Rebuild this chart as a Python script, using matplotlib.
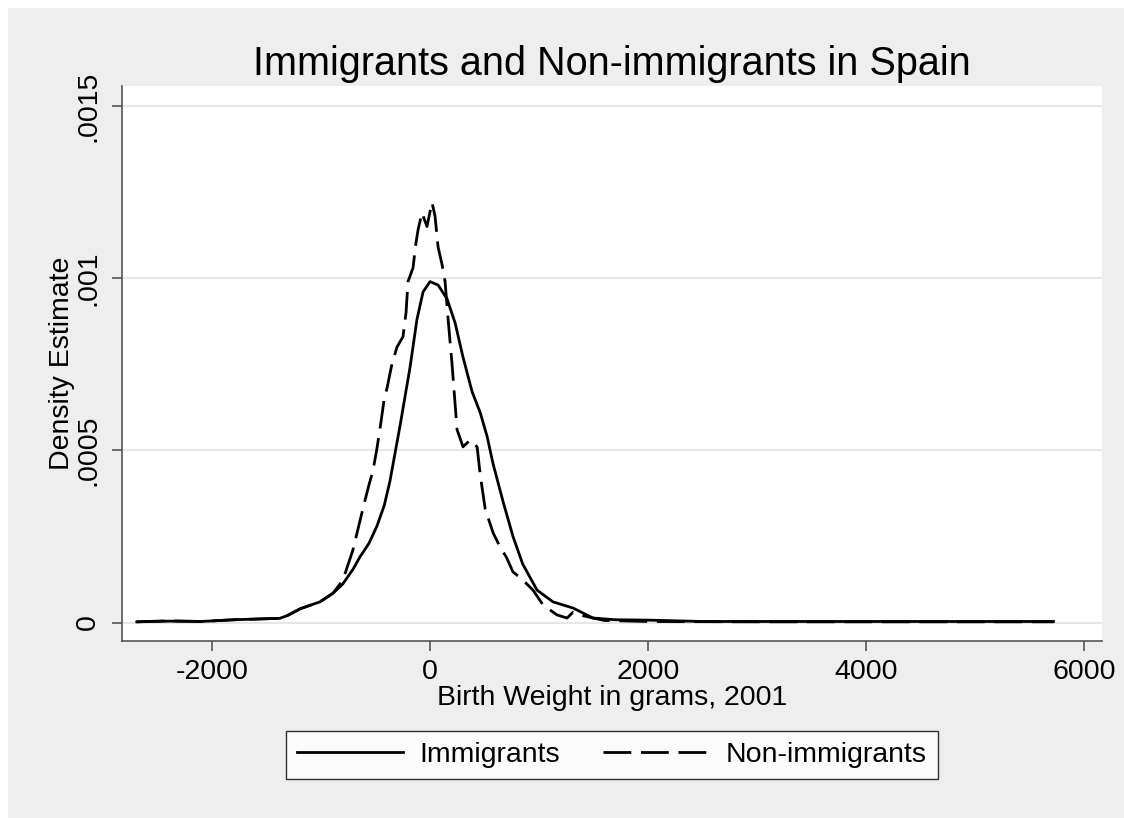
import matplotlib.pyplot as plt
from matplotlib.patches import Rectangle

plt.rcParams['font.family'] = ['Liberation Sans', 'DejaVu Sans']
plt.rcParams['axes.unicode_minus'] = False

# Data
immig_x = [-2690, -2400, -2100, -1800, -1500, -1380, -1310, -1190, -1010, -890,
           -800, -706, -644, -560, -487, -420, -368, -276, -184, -120, -64, 0,
           74, 156, 230, 303, 386, 460, 524, 579, 671, 761, 850, 982, 1128,
           1312, 1495, 1700, 1991, 2500, 3000, 4000, 5000, 5720]
immig_y = [0.000002, 0.000004, 0.000003, 0.000008, 0.000011, 0.000012, 0.00002,
           0.00004, 0.00006, 0.000085, 0.000112, 0.000155, 0.00019, 0.00023,
           0.00028, 0.00034, 0.00041, 0.00057, 0.00074, 0.00088, 0.00096,
           0.00099, 0.00098, 0.00094, 0.00087, 0.00077, 0.00067, 0.00061,
           0.00054, 0.00046, 0.00035, 0.00025, 0.00017, 0.000094, 0.00006,
           0.000042, 0.000013, 0.000008, 0.000007, 0.000003, 0.000003,
           0.000003, 0.000003, 0.000003]

nonimmig_x = [-2690, -2400, -2100, -1800, -1500, -1380, -1310, -1190, -1010,
              -890, -800, -708, -616, -560, -524, -490, -460, -420, -395, -350,
              -303, -248, -220, -202, -156, -130, -110, -74, -28, 18, 46, 74,
              110, 138, 166, 202, 248, 303, 368, 432, 460, 506, 579, 642, 700,
              761, 853, 945, 1037, 1165, 1257, 1312, 1400, 1495, 1600, 2000,
              3000, 4000, 5000, 5720]
nonimmig_y = [0.000002, 0.000005, 0.000003, 0.000008, 0.000011, 0.000012,
              0.00002, 0.00004, 0.00006, 0.000085, 0.000123, 0.00021, 0.00033,
              0.0004, 0.00044, 0.0005, 0.00056, 0.00065, 0.00068, 0.00075,
              0.0008, 0.00083, 0.0009, 0.00099, 0.00103, 0.0011, 0.00114,
              0.00119, 0.00115, 0.00122, 0.00118, 0.00109, 0.00104, 0.00099,
              0.00088, 0.00075, 0.00056, 0.00051, 0.00053, 0.00051, 0.00043,
              0.00033, 0.00026, 0.00022, 0.00019, 0.000147, 0.000123, 0.000094,
              0.000051, 0.000022, 0.000013, 0.00003, 0.00002, 0.000013,
              0.000006, 0.000003, 0.000002, 0.000002, 0.000002, 0.000002]

x_ticks = [-2000, 0, 2000, 4000, 6000]
y_ticks = [0, 0.0005, 0.001, 0.0015]
y_tick_labels = ['0', '.0005', '.001', '.0015']

W, H = 1124, 818
fig = plt.figure(figsize=(W / 100, H / 100), dpi=100)
# Stata-like light gray graph region, thin white strip on top and left
fig.patch.set_facecolor('#eeeeee')
fig.patches.append(Rectangle((0, 1 - 8 / H), 1, 8 / H, transform=fig.transFigure,
                             facecolor='white', edgecolor='none', zorder=-10))
fig.patches.append(Rectangle((0, 0), 8 / W, 1, transform=fig.transFigure,
                             facecolor='white', edgecolor='none', zorder=-10))

ax = fig.add_axes([122 / W, (H - 641) / H, (1102 - 122) / W, (641 - 86) / H])
ax.set_facecolor('white')

ax.plot(immig_x, immig_y, color='black', lw=2.0, label='Immigrants')
ax.plot(nonimmig_x, nonimmig_y, color='black', lw=2.0, dashes=(10, 3.5),
        label='Non-immigrants')

ax.set_xlim(-2826, 6165)
ax.set_ylim(-0.0000537, 0.001558)
ax.set_xticks(x_ticks)
ax.set_yticks(y_ticks)
ax.set_yticklabels(y_tick_labels, rotation=90, va='center')
ax.yaxis.grid(True, color='#e6e6e6', lw=1.6)
ax.set_axisbelow(True)

for s in ['top', 'right']:
    ax.spines[s].set_visible(False)
for s in ['left', 'bottom']:
    ax.spines[s].set_color('#555555')
    ax.spines[s].set_linewidth(1.2)

ax.tick_params(axis='both', labelsize=20.5, length=7, width=1.2, color='#555555',
               labelcolor='black')
ax.tick_params(axis='x', pad=6)
ax.tick_params(axis='y', pad=8)

ax.set_title('Immigrants and Non-immigrants in Spain', fontsize=28.5, pad=8)
ax.set_xlabel('Birth Weight in grams, 2001', fontsize=20.5, labelpad=0)
ax.set_ylabel('Density Estimate', fontsize=20.5, labelpad=0)

leg = fig.legend(loc='center', bbox_to_anchor=(612 / W, 1 - 755 / H), ncol=2,
                 fontsize=20.5, frameon=True, fancybox=False, handlelength=3.7,
                 handletextpad=0.6, columnspacing=1.5, borderpad=0.4,
                 borderaxespad=0)
leg.get_frame().set_edgecolor('black')
leg.get_frame().set_linewidth(1.0)
leg.get_frame().set_facecolor('white')

fig.savefig('out.png', dpi=100, facecolor=fig.get_facecolor())
